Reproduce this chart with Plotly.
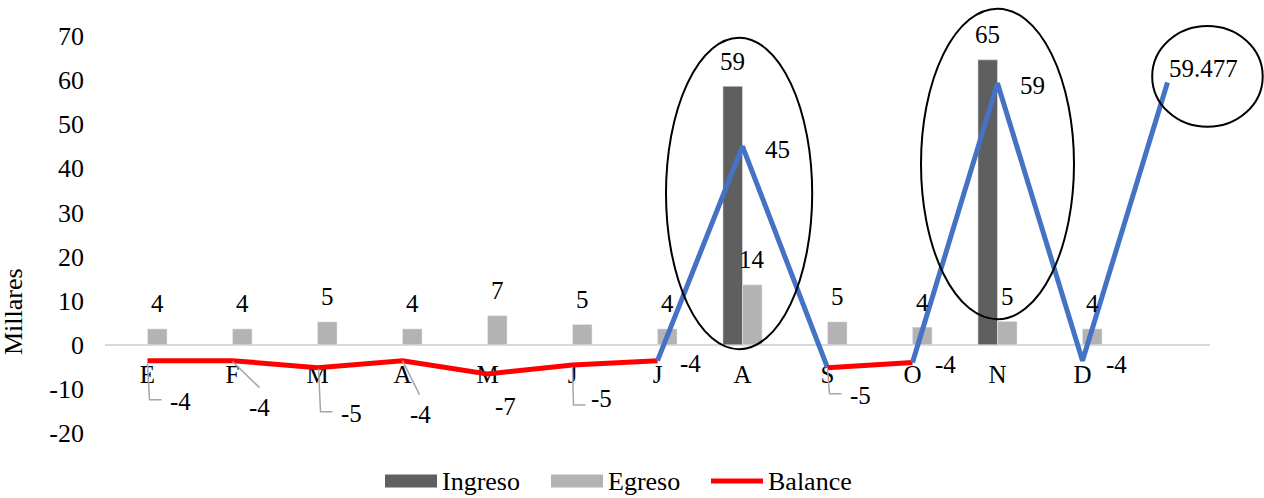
import math
import plotly.graph_objects as go

# ---- data (miles) ----
months = ["E", "F", "M", "A", "M", "J", "J", "A", "S", "O", "N", "D", ""]
ingreso = [None, None, None, None, None, None, None, 58.6, None, None, 64.6, None, None]
egreso = [3.6, 3.6, 5.2, 3.6, 6.6, 4.6, 3.6, 13.6, 5.2, 4.0, 5.3, 3.6, None]
balance = [-3.6, -3.6, -5.2, -3.6, -6.6, -4.6, -3.6, 45.0, -5.2, -4.0, 59.3, -3.6, 59.477]
balance_decimals = [0] * 12 + [3]
y_ticks = list(range(-20, 71, 10))

# ---- styling ----
FONT = "Liberation Serif, Times New Roman, serif"
C_ING = "#5f5f5f"
C_EGR = "#b3b3b3"
C_NEG = "#ff0000"
C_POS = "#4472c4"
C_AXIS = "#d9d9d9"
C_LEADER = "#a6a6a6"

W, H = 1264, 498
ML, MR, MT, MB = 105, 54, 36, 65
PW, PH = W - ML - MR, H - MT - MB
YMIN, YMAX = -20, 70
XMIN, XMAX = -0.5, len(months) - 0.5
BARGAP = 0.54
BAR_W = (1 - BARGAP) / 2


def font(size):
    return dict(family=FONT, size=size, color="black")


def fmt(v, d=0):
    if d:
        return f"{v:.{d}f}"
    r = math.floor(abs(v) + 0.5)
    return f"{'-' if v < 0 and r else ''}{r}"


def px_x(p):
    return (p - ML) / PW


def px_y(p):
    return (MT + PH - p) / PH


def dx(v):
    return (v - XMIN) / (XMAX - XMIN)


def dy(v):
    return (v - YMIN) / (YMAX - YMIN)


xs = list(range(len(months)))
fig = go.Figure()

fig.add_trace(go.Bar(x=xs, y=ingreso, name="Ingreso", marker_color=C_ING,
                     showlegend=False))
fig.add_trace(go.Bar(x=xs, y=egreso, name="Egreso", marker_color=C_EGR,
                     showlegend=False))

# balance line: blue where a segment reaches positive values, red otherwise
seg_colors = [C_POS if max(balance[i], balance[i + 1]) > 0 else C_NEG
              for i in range(len(balance) - 1)]
start = 0
for i in range(1, len(seg_colors) + 1):
    if i == len(seg_colors) or seg_colors[i] != seg_colors[start]:
        fig.add_trace(go.Scatter(
            x=xs[start:i + 1], y=balance[start:i + 1], mode="lines",
            line=dict(color=seg_colors[start], width=5),
            name="Balance", showlegend=False, hoverinfo="skip"))
        start = i

annotations = []
shapes = []

# bar value labels
for i, v in enumerate(ingreso):
    if v is not None:
        annotations.append(dict(x=i - BAR_W / 2, y=v, xref="x", yref="y", text=fmt(v),
                                showarrow=False, yshift=25, font=font(25)))
for i, v in enumerate(egreso):
    if v is not None:
        annotations.append(dict(x=i + BAR_W / 2, y=v, xref="x", yref="y", text=fmt(v),
                                showarrow=False, yshift=25, font=font(25)))

# balance value labels (pixel offsets from each point)
bal_offsets = [(33, -41), (27, -47), (34, -46), (18, -54), (18, -33), (29, -33),
               (33, -3), (35, -3), (33, -28), (33, -2), (35, -2), (34, -4), (36, 14)]
for i, v in enumerate(balance):
    ox, oy = bal_offsets[i]
    annotations.append(dict(x=i, y=v, xref="x", yref="y",
                            text=fmt(v, balance_decimals[i]), showarrow=False,
                            xshift=ox, yshift=oy, font=font(25)))

# leader lines for the labels set away from their points
leaders = {
    0: "M0,-3 L2,-39 L14,-39",
    1: "M0,-1 L27,-27",
    2: "M1,-1 L3,-44 L15,-44",
    3: "M0,0 L17,-34",
    5: "M0,-2 L1,-40 L13,-40",
    8: "M0,-1 L2,-26 L14,-26",
}
for i, path in leaders.items():
    shapes.append(dict(type="path", xref="x", yref="y", xsizemode="pixel",
                       ysizemode="pixel", xanchor=i, yanchor=balance[i], path=path,
                       line=dict(color=C_LEADER, width=1.5), layer="above"))

# highlight ellipses (category index, left/right extent, value bottom/top)
highlights = [(7, -0.90, 0.82, -1.0, 69.6),
              (10, -0.90, 0.90, 5.8, 76.2),
              (12, -0.18, 1.12, 49.4, 72.25)]
for c, l, r, b, t in highlights:
    shapes.append(dict(type="circle", xref="paper", yref="paper",
                       x0=dx(c + l), x1=dx(c + r), y0=dy(b), y1=dy(t),
                       line=dict(color="black", width=2), fillcolor="rgba(0,0,0,0)"))

# y axis title
annotations.append(dict(x=px_x(13), y=px_y(312), xref="paper", yref="paper",
                        xanchor="center", yanchor="middle",
                        text="Millares", textangle=-90, showarrow=False,
                        font=font(26)))

# legend
legend_y = px_y(481)
for name, color, x0, x1, tx in [("Ingreso", C_ING, 385, 437, 440),
                                ("Egreso", C_EGR, 551, 603, 606)]:
    shapes.append(dict(type="rect", xref="paper", yref="paper",
                       x0=px_x(x0), x1=px_x(x1), y0=px_y(487.5), y1=px_y(474.5),
                       line=dict(width=0), fillcolor=color))
    annotations.append(dict(x=px_x(tx), y=legend_y, xref="paper", yref="paper",
                            text=name, showarrow=False, xanchor="left",
                            yanchor="middle", font=font(26)))
shapes.append(dict(type="line", xref="paper", yref="paper",
                   x0=px_x(711), x1=px_x(763), y0=legend_y, y1=legend_y,
                   line=dict(color=C_NEG, width=5)))
annotations.append(dict(x=px_x(766), y=legend_y, xref="paper", yref="paper",
                        text="Balance", showarrow=False, xanchor="left",
                        yanchor="middle", font=font(26)))

fig.update_layout(
    width=W, height=H,
    margin=dict(l=ML, r=MR, t=MT, b=MB, pad=0),
    paper_bgcolor="white", plot_bgcolor="white",
    font=font(25),
    barmode="group", bargap=BARGAP, bargroupgap=0,
    showlegend=False,
    annotations=annotations, shapes=shapes,
    xaxis=dict(range=[XMIN, XMAX], tickmode="array", tickvals=xs, ticktext=months,
               anchor="free", position=dy(0), showline=True, linecolor=C_AXIS,
               linewidth=2, showgrid=False, zeroline=False, ticks="",
               ticklabelstandoff=7, tickfont=font(25), layer="below traces"),
    yaxis=dict(range=[YMIN, YMAX], tickmode="array", tickvals=y_ticks,
               ticktext=[str(v) for v in y_ticks],
               showgrid=False, zeroline=False, showline=False, ticks="",
               ticklabelstandoff=20, tickfont=font(26)),
)

fig.write_html("out.html")
